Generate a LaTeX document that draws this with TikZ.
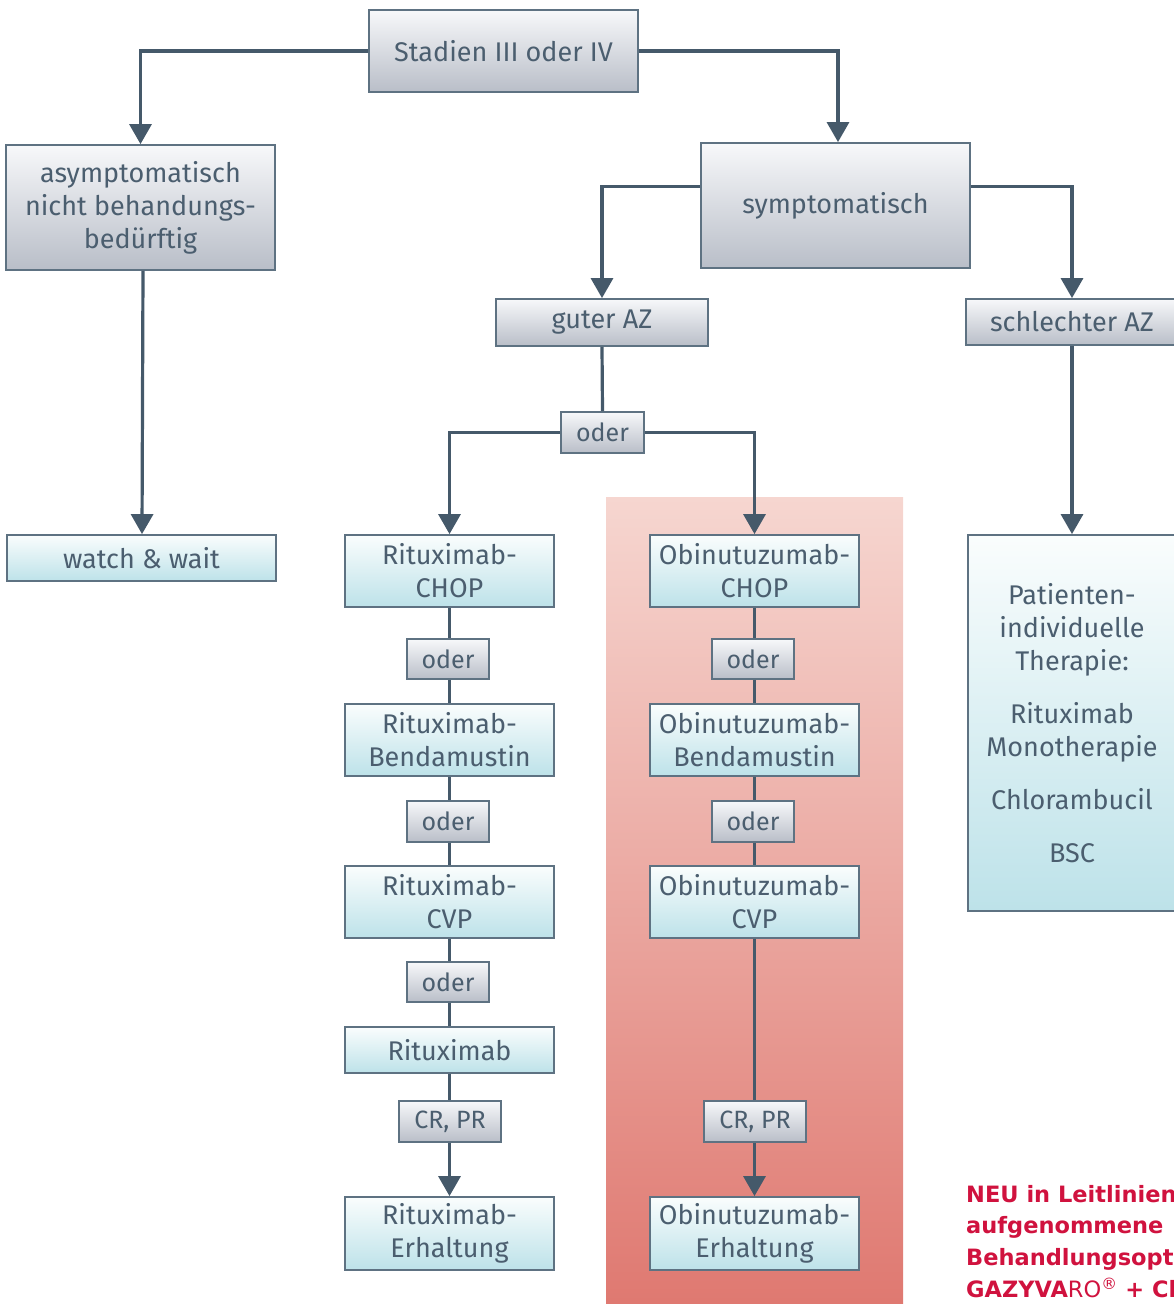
\documentclass[tikz,border=0pt]{standalone}
\usepackage{fontspec}
\setmainfont{Fira Sans}
\newfontfamily\neufont{DejaVu Sans}
\usetikzlibrary{arrows.meta}
\definecolor{txt}{HTML}{4B5E6F}
\definecolor{ln}{HTML}{45596A}
\definecolor{bd}{HTML}{5E7282}
\definecolor{gtop}{HTML}{F7F8FA}
\definecolor{gbot}{HTML}{B9BEC8}
\definecolor{btop}{HTML}{FAFDFD}
\definecolor{bbot}{HTML}{BDE2E9}
\definecolor{rtop}{HTML}{F6D6D0}
\definecolor{rbot}{HTML}{DF7870}
\definecolor{neu}{HTML}{D0123E}
\tikzset{
  base/.style={draw=bd, line width=1.8pt, text=txt, align=center, inner sep=0pt,
    font=\fontsize{27}{33}\selectfont},
  gbox/.style={base, top color=gtop, bottom color=gbot},
  bbox/.style={base, top color=btop, bottom color=bbot},
  wide/.style={minimum width=209pt},
  oderbox/.style={gbox, minimum width=82pt, minimum height=40pt, font=\fontsize{25}{30}\selectfont},
  conn/.style={draw=ln, line width=3.2pt},
  arr/.style={conn, -{Triangle[width=22pt,length=20pt]}},
  redtxt/.style={anchor=base west, text=neu, inner sep=0pt, font=\neufont\bfseries\fontsize{22.5}{30}\selectfont}
}
\begin{document}
\begin{tikzpicture}[x=1pt,y=-1pt]
\useasboundingbox (0,0) rectangle (1174,1304);
\clip (0,0) rectangle (1174,1304);
\fill[top color=rtop, bottom color=rbot] (606,497) rectangle (903,1310);

\node[gbox, minimum width=269pt, minimum height=82pt] (stadien) at (503.5,51) {Stadien III oder IV};
\node[gbox, minimum width=269pt, minimum height=125pt] (asym) at (140.5,207.5) {asymptomatisch\\nicht behandungs-\\bedürftig};
\node[gbox, minimum width=269pt, minimum height=125pt] (sym) at (835.5,205.5) {symptomatisch};
\node[gbox, minimum width=212pt, minimum height=47pt] (guter) at (602,322.5) {guter AZ};
\node[gbox, minimum width=212pt, minimum height=46pt] (schlecht) at (1072,322) {schlechter AZ};
\node[oderbox, minimum width=83pt, minimum height=41pt] (oder0) at (602.5,432.5) {oder};
\node[bbox, minimum width=269pt, minimum height=46pt] (watch) at (141.5,558) {watch \& wait};

\node[bbox, wide, minimum height=72pt] (r1) at (449.5,571) {Rituximab-\\CHOP};
\node[oderbox] (o1) at (448,659) {oder};
\node[bbox, wide, minimum height=72pt] (r2) at (449.5,740) {Rituximab-\\Bendamustin};
\node[oderbox, minimum height=41pt] (o2) at (448,821.5) {oder};
\node[bbox, wide, minimum height=72pt] (r3) at (449.5,902) {Rituximab-\\CVP};
\node[oderbox] (o3) at (448,982) {oder};
\node[bbox, wide, minimum height=46pt] (r4) at (449.5,1050) {Rituximab};
\node[oderbox, minimum width=102pt, minimum height=41pt] (cr1) at (450,1121.5) {CR, PR};
\node[bbox, wide, minimum height=73pt] (r5) at (449.5,1233.5) {Rituximab-\\Erhaltung};

\node[bbox, wide, minimum height=72pt] (b1) at (754.5,571) {Obinutuzumab-\\CHOP};
\node[oderbox] (p1) at (753,659) {oder};
\node[bbox, wide, minimum height=72pt] (b2) at (754.5,740) {Obinutuzumab-\\Bendamustin};
\node[oderbox, minimum height=41pt] (p2) at (753,821.5) {oder};
\node[bbox, wide, minimum height=72pt] (b3) at (754.5,902) {Obinutuzumab-\\CVP};
\node[oderbox, minimum width=102pt, minimum height=41pt] (cr2) at (755,1121.5) {CR, PR};
\node[bbox, wide, minimum height=73pt] (b5) at (754.5,1233.5) {Obinutuzumab-\\Erhaltung};

\node[bbox, minimum width=208pt, minimum height=376pt] (pat) at (1072,723)
  {Patienten-\\individuelle\\Therapie:\\[20pt]Rituximab\\Monotherapie\\[20pt]Chlorambucil\\[20pt]BSC};

\draw[arr] (stadien.west) -| (asym.north);
\draw[arr] (stadien.east) -| ([xshift=2.5pt]sym.north);
\draw[arr] ([yshift=19pt]sym.west) -| (guter.north);
\draw[arr] ([yshift=19pt]sym.east) -| (schlecht.north);
\draw[arr] ([xshift=2.5pt]asym.south) -- ([xshift=0.5pt]watch.north);
\draw[conn] (guter.south) -- (oder0.north);
\draw[arr] (oder0.west) -| (r1.north);
\draw[arr] (oder0.east) -| (b1.north);
\draw[arr] (schlecht.south) -- (pat.north);

\draw[conn] (r1.south) -- (r1.south |- o1.north);
\draw[conn] (r1.south |- o1.south) -- (r2.north);
\draw[conn] (r2.south) -- (r2.south |- o2.north);
\draw[conn] (r2.south |- o2.south) -- (r3.north);
\draw[conn] (r3.south) -- (r3.south |- o3.north);
\draw[conn] (r3.south |- o3.south) -- (r4.north);
\draw[conn] (r4.south) -- (r4.south |- cr1.north);
\draw[arr] (r4.south |- cr1.south) -- (r5.north);

\draw[conn] (b1.south) -- (b1.south |- p1.north);
\draw[conn] (b1.south |- p1.south) -- (b2.north);
\draw[conn] (b2.south) -- (b2.south |- p2.north);
\draw[conn] (b2.south |- p2.south) -- (b3.north);
\draw[conn] (b3.south) -- (b3.south |- cr2.north);
\draw[arr] (b3.south |- cr2.south) -- (b5.north);

\node[redtxt] (n1) at (966,1202) {NEU in Leitlinien};
\node[redtxt] (n2) at (966,1233) {aufgenommene};
\node[redtxt] (n3) at (966,1265) {Behandlungsoption:};
\node[redtxt] (n4) at (966,1297) {GAZYVA{\mdseries RO}\textsuperscript{\mdseries®} + Chemotherapie};
\end{tikzpicture}
\end{document}
